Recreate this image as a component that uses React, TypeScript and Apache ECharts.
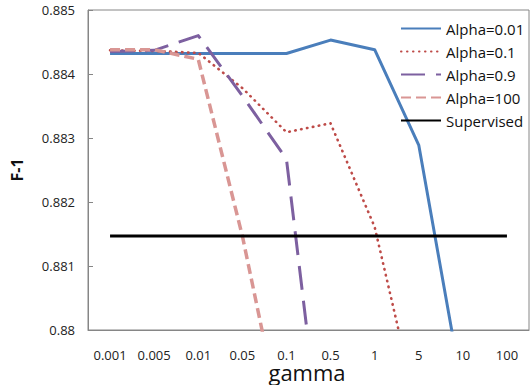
import React, { useEffect, useRef } from "react";
import * as echarts from "echarts";

const gammaLabels = ["0.001", "0.005", "0.01", "0.05", "0.1", "0.5", "1", "5", "10", "100"];
const alpha001 = [0.88432, 0.88432, 0.88432, 0.88432, 0.88432, 0.88453, 0.88438, 0.88289, 0.87902, 0.8775];
const alpha01 = [0.88437, 0.88436, 0.88433, 0.88378, 0.88309, 0.88323, 0.88161, 0.87864, 0.877, 0.877];
const alpha09 = [0.88435, 0.88437, 0.8846, 0.88366, 0.88267, 0.87692, 0.876, 0.876, 0.876, 0.876];
const alpha100 = [0.88438, 0.88438, 0.88423, 0.88147, 0.87817, 0.877, 0.877, 0.877, 0.877, 0.877];
const supervised = [0.88147, 0.88147, 0.88147, 0.88147, 0.88147, 0.88147, 0.88147, 0.88147, 0.88147, 0.88147];
const yTicks = { min: 0.88, max: 0.885, interval: 0.001 };
const xAxisTitle = "gamma";

const FONT = "'Open Sans', 'Noto Sans', sans-serif";

export default function App() {
  const ref = useRef<HTMLDivElement>(null);
  useEffect(() => {
    if (!ref.current) return;
    const chart = echarts.init(ref.current, undefined, { renderer: "svg" });
    const mk = (name: string, data: number[], color: string, width: number, type: any, cap: any) => ({
      name,
      type: "line",
      data,
      symbol: "none",
      clip: true,
      lineStyle: { color, width, type, cap, join: "round" },
      itemStyle: { color },
    });
    chart.setOption({
      animation: false,
      grid: {
        left: 88,
        right: 2,
        top: 10,
        bottom: 55,
        show: true,
        borderColor: "#868686",
        borderWidth: 1,
        outerBoundsMode: "none",
        containLabel: false,
      },
      legend: {
        orient: "vertical",
        left: 395,
        top: 16,
        itemWidth: 40,
        itemHeight: 14,
        itemGap: 8,
        itemStyle: { opacity: 0 },
        textStyle: { fontFamily: FONT, fontSize: 15, color: "#111" },
        data: ["Alpha=0.01", "Alpha=0.1", "Alpha=0.9", "Alpha=100", "Supervised"],
      },
      graphic: [
        {
          type: "text",
          x: 307,
          y: 372,
          style: {
            text: xAxisTitle,
            align: "center",
            verticalAlign: "middle",
            fontFamily: FONT,
            fontSize: 22,
            lineHeight: 20,
            fill: "#111",
          },
        },
      ],
      xAxis: {
        type: "category",
        data: gammaLabels,
        boundaryGap: true,
        axisLine: { lineStyle: { color: "#868686", width: 1 } },
        axisTick: { show: false },
        axisLabel: { fontFamily: FONT, fontSize: 13, color: "#222", margin: 18 },
      },
      yAxis: {
        type: "value",
        min: yTicks.min,
        max: yTicks.max,
        interval: yTicks.interval,
        axisLine: { show: true, lineStyle: { color: "#868686", width: 1 } },
        axisTick: { show: true, inside: true, length: 5, lineStyle: { color: "#868686" } },
        splitLine: { show: false },
        axisLabel: { fontFamily: FONT, fontSize: 13, color: "#222", margin: 13 },
        name: "F-1",
        nameLocation: "middle",
        nameGap: 63,
        nameTextStyle: { fontFamily: FONT, fontSize: 16, fontWeight: "bold", color: "#111" },
      },
      series: [
        mk("Alpha=0.01", alpha001, "#4A7EBB", 3, "solid", "butt"),
        mk("Alpha=0.1", alpha01, "#BE4B48", 2.6, [0.5, 5.5], "round"),
        mk("Alpha=0.9", alpha09, "#7D60A0", 3, [24, 11], "butt"),
        mk("Alpha=100", alpha100, "#D99694", 3.5, [10, 5], "butt"),
        mk("Supervised", supervised, "#000000", 3, "solid", "butt"),
      ],
    });
    return () => chart.dispose();
  }, []);
  return <div ref={ref} style={{ width: 531, height: 385, position: "absolute", left: 0, top: 0 }} />;
}
